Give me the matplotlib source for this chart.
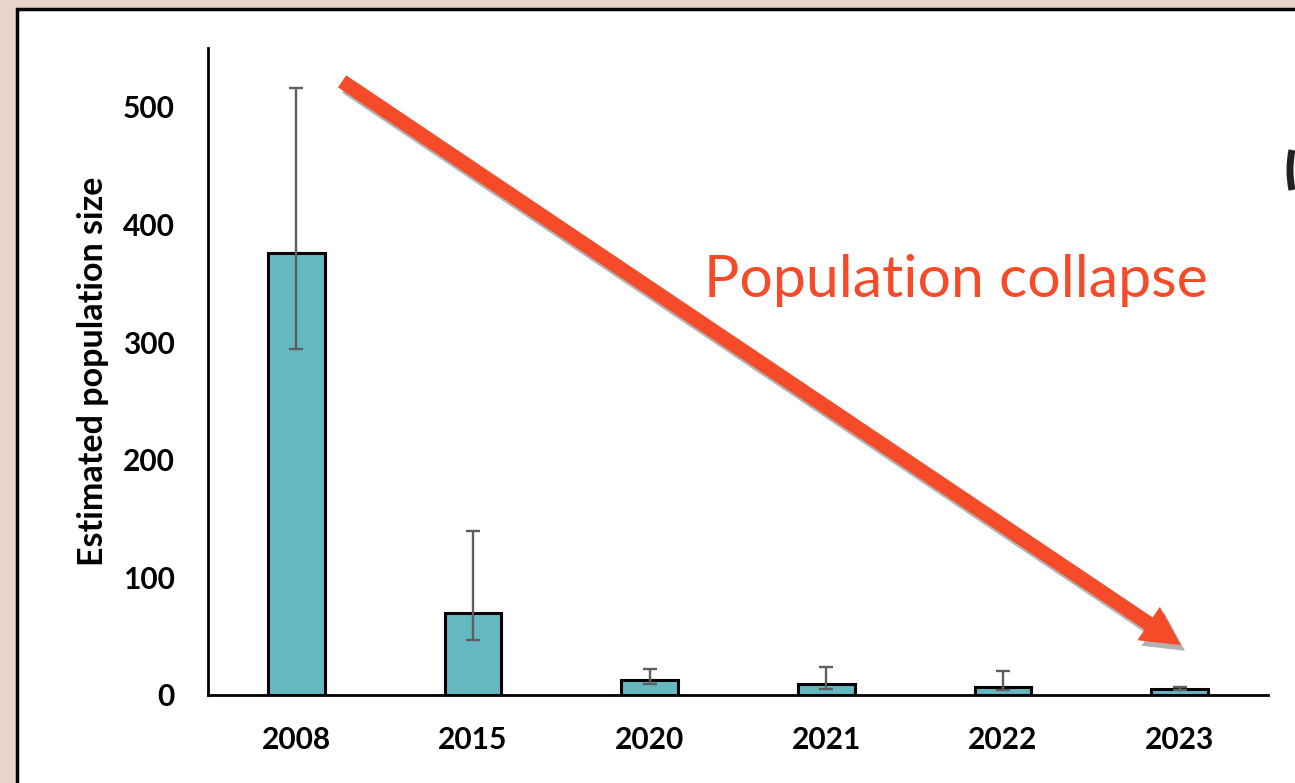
import matplotlib.pyplot as plt
import matplotlib.patheffects as pe
from matplotlib.patches import Rectangle, FancyArrowPatch, Arc

years = ["2008", "2015", "2020", "2021", "2022", "2023"]
estimates = [376, 70, 13, 9, 7, 5]
upper_ci = [516, 139, 22, 24, 20, 7]
lower_ci = [294, 47, 9, 5, 4, 4]

bar_color = "#63b8c2"
arrow_color = "#f54b29"

plt.rcParams['font.family'] = ['Lato', 'DejaVu Sans']

fig = plt.figure(figsize=(12.95, 7.83), dpi=100, facecolor="#e7d5ca")

# white slide panel
panel = Rectangle((17 / 1295, -0.05), 1.1, 1 - 9 / 783 + 0.05, transform=fig.transFigure,
                  facecolor="white", edgecolor="black", linewidth=2.5, zorder=-5)
fig.patches.append(panel)

ax = fig.add_axes([208 / 1295, 1 - 695 / 783, (1268 - 208) / 1295, (695 - 48) / 783])
ax.set_zorder(2)
ax.set_facecolor("none")

x = range(len(years))
yerr = [[e - l for e, l in zip(estimates, lower_ci)],
        [u - e for u, e in zip(upper_ci, estimates)]]
ax.bar(x, estimates, width=0.32, color=bar_color, edgecolor="black", linewidth=2.2, zorder=2)
ax.errorbar(x, estimates, yerr=yerr, fmt="none", ecolor="#5e5e5e", elinewidth=1.7,
            capsize=5, capthick=1.7, zorder=3)

ax.set_xlim(-0.5, 5.5)
ax.set_ylim(0, 550)
ax.set_yticks([0, 100, 200, 300, 400, 500])
ax.set_xticks(list(x))
ax.set_xticklabels(years)
ax.tick_params(axis="y", length=0, labelsize=21.5, pad=24)
ax.tick_params(axis="x", length=0, labelsize=21.5, pad=22)
for lbl in ax.get_xticklabels() + ax.get_yticklabels():
    lbl.set_fontweight("bold")
for s in ["top", "right"]:
    ax.spines[s].set_visible(False)
for s in ["left", "bottom"]:
    ax.spines[s].set_linewidth(2)
ax.set_ylabel("Estimated population size", fontsize=24.5, fontweight="bold", labelpad=10)

# trend arrow with shadow
arrow = FancyArrowPatch((0.246, 523), (5.02, 41), transform=ax.transData,
                        arrowstyle="simple,tail_width=1.05,head_width=2.9,head_length=2.8",
                        mutation_scale=10, color=arrow_color, linewidth=0, zorder=4,
                        clip_on=False)
arrow.set_path_effects([pe.SimplePatchShadow(offset=(3, -4), alpha=0.3, shadow_rgbFace="black"),
                        pe.Normal()])
ax.add_patch(arrow)

ax.text(0.706, 0.641, "Population collapse", transform=ax.transAxes, fontsize=42.5,
        color=arrow_color, ha="center", va="center", zorder=5)

# clipped shape at right edge of slide
arc = Arc((1345 / 1295, 1 - 170 / 783), 110 / 1295, 150 / 783, transform=fig.transFigure,
          theta1=148, theta2=212, color="#222222", linewidth=5, zorder=-1)
fig.patches.append(arc)

fig.savefig("out.png", dpi=100, facecolor=fig.get_facecolor())
